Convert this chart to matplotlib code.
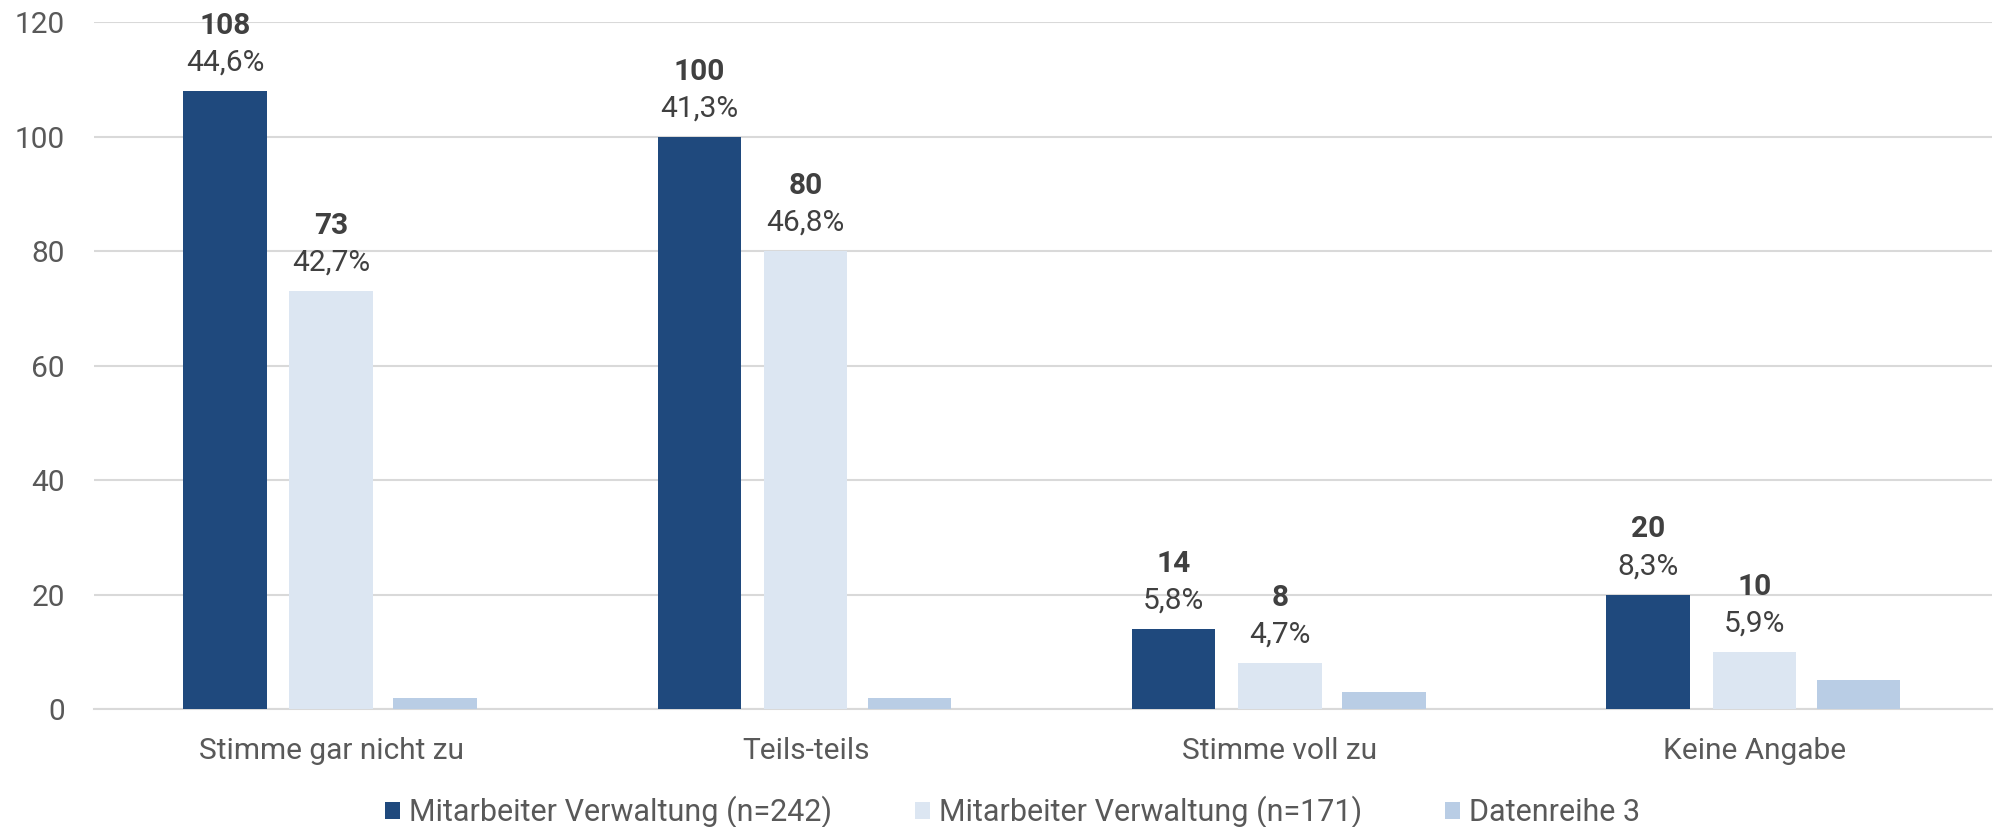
import matplotlib
matplotlib.use("Agg")
import matplotlib.pyplot as plt
from matplotlib.patches import Patch
import numpy as np

plt.rcParams['font.family'] = ['Roboto', 'DejaVu Sans']

categories = ["Stimme gar nicht zu", "Teils-teils", "Stimme voll zu", "Keine Angabe"]
series_names = ["Mitarbeiter Verwaltung (n=242)", "Mitarbeiter Verwaltung (n=171)", "Datenreihe 3"]
s1 = [108, 100, 14, 20]
s2 = [73, 80, 8, 10]
s3 = [2, 2, 3, 5]
s1_pct = ["44,6%", "41,3%", "5,8%", "8,3%"]
s2_pct = ["42,7%", "46,8%", "4,7%", "5,9%"]
yticks = [0, 20, 40, 60, 80, 100, 120]

colors = ["#1F497D", "#DCE6F2", "#B9CDE5"]
text_dark = "#404040"
tick_grey = "#595959"

fig = plt.figure(figsize=(20.01, 8.27), dpi=100)
ax = fig.add_axes([0.047, 0.1427, 0.9483, 0.8301])

x = np.arange(len(categories))
offs = [-0.224, 0.0, 0.219]
w = 0.176
bars = []
for vals, off, c in zip([s1, s2, s3], offs, colors):
    bars.append(ax.bar(x + off, vals, width=w, color=c, zorder=3))

for bset, vals, pcts in [(bars[0], s1, s1_pct), (bars[1], s2, s2_pct)]:
    for b, v, p in zip(bset, vals, pcts):
        cx = b.get_x() + b.get_width() / 2
        ax.annotate(p, (cx, v), xytext=(0, 20.5), textcoords="offset points",
                    ha="center", va="center", fontsize=21.5, color=text_dark)
        ax.annotate(str(v), (cx, v), xytext=(0, 47), textcoords="offset points",
                    ha="center", va="center", fontsize=21.5, color=text_dark,
                    fontweight="bold")

ax.set_xlim(-0.5, len(categories) - 0.5)
ax.set_ylim(0, 120)
ax.set_yticks(yticks)
ax.set_yticklabels([str(t) for t in yticks])
ax.set_xticks(x)
ax.set_xticklabels(categories)
ax.tick_params(axis="both", length=0, labelsize=21.5, colors=tick_grey)
ax.tick_params(axis="y", pad=21)
ax.tick_params(axis="x", pad=20)
ax.grid(axis="y", color="#D9D9D9", linewidth=1.5, zorder=0)
for s in ["top", "right", "left"]:
    ax.spines[s].set_visible(False)
ax.spines["bottom"].set_color("#D9D9D9")
ax.spines["bottom"].set_linewidth(1.5)

handles = [Patch(facecolor=c, edgecolor="none") for c in colors]
fig.legend(handles, series_names, loc="center", bbox_to_anchor=(0.506, 0.018),
           ncol=3, frameon=False, fontsize=22, handlelength=0.5, handleheight=0.5,
           handletextpad=0.3, columnspacing=2.7, labelcolor=tick_grey)

fig.savefig("out.png", dpi=100)
